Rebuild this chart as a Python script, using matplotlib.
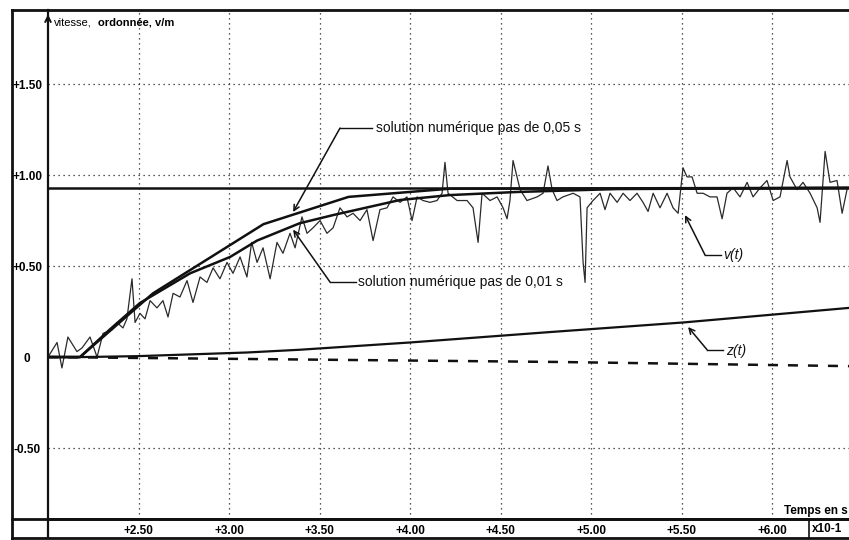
import matplotlib
matplotlib.use("Agg")
import matplotlib.pyplot as plt
from matplotlib.lines import Line2D

# --------------------------------------------------------------------------- #
# data
# --------------------------------------------------------------------------- #
x_ticks = [2.5, 3.0, 3.5, 4.0, 4.5, 5.0, 5.5, 6.0]
x_labels = ["+2.50", "+3.00", "+3.50", "+4.00", "+4.50", "+5.00", "+5.50", "+6.00"]
y_ticks = [-0.5, 0.0, 0.5, 1.0, 1.5]
y_labels = ["-0.50", "0", "+0.50", "+1.00", "+1.50"]
x_range = (2.0, 6.425)
y_range = (-0.89, 1.907)

# measured speed v(t)
t_meas = [2.000, 2.050, 2.077, 2.110, 2.160, 2.188, 2.232, 2.271, 2.304, 2.354,
          2.381, 2.414, 2.436, 2.464, 2.481, 2.508, 2.536, 2.564, 2.602, 2.635,
          2.663, 2.691, 2.729, 2.768, 2.801, 2.840, 2.878, 2.912, 2.950, 2.989,
          3.022, 3.061, 3.099, 3.125, 3.155, 3.188, 3.227, 3.265, 3.298, 3.337,
          3.365, 3.403, 3.431, 3.464, 3.503, 3.541, 3.575, 3.613, 3.652, 3.685,
          3.724, 3.762, 3.796, 3.834, 3.873, 3.906, 3.945, 3.983, 4.011, 4.039,
          4.072, 4.110, 4.149, 4.177, 4.193, 4.210, 4.260, 4.315, 4.348, 4.376,
          4.398, 4.442, 4.481, 4.514, 4.536, 4.552, 4.569, 4.591, 4.608, 4.646,
          4.702, 4.735, 4.762, 4.785, 4.812, 4.845, 4.901, 4.939, 4.956, 4.967,
          4.978, 5.011, 5.050, 5.077, 5.105, 5.144, 5.177, 5.215, 5.254, 5.287,
          5.315, 5.343, 5.381, 5.420, 5.453, 5.481, 5.508, 5.530, 5.558, 5.586,
          5.619, 5.657, 5.696, 5.724, 5.751, 5.785, 5.823, 5.862, 5.895, 5.934,
          5.972, 6.006, 6.044, 6.083, 6.099, 6.138, 6.171, 6.210, 6.249, 6.265,
          6.293, 6.320, 6.359, 6.387, 6.414]
v_meas = [0.00, 0.08, -0.06, 0.11, 0.03, 0.05, 0.11, 0.00, 0.13, 0.15,
          0.19, 0.16, 0.21, 0.43, 0.19, 0.24, 0.21, 0.31, 0.27, 0.31,
          0.22, 0.35, 0.33, 0.42, 0.30, 0.44, 0.41, 0.49, 0.43, 0.52,
          0.46, 0.55, 0.44, 0.63, 0.52, 0.60, 0.43, 0.63, 0.57, 0.68,
          0.60, 0.77, 0.68, 0.71, 0.75, 0.68, 0.71, 0.82, 0.77, 0.79,
          0.75, 0.81, 0.64, 0.81, 0.82, 0.88, 0.85, 0.88, 0.75, 0.88,
          0.86, 0.85, 0.86, 0.90, 1.07, 0.90, 0.86, 0.86, 0.82, 0.63,
          0.90, 0.86, 0.88, 0.82, 0.76, 0.86, 1.08, 0.99, 0.92, 0.86,
          0.88, 0.90, 1.05, 0.92, 0.86, 0.88, 0.90, 0.88, 0.52, 0.41,
          0.82, 0.86, 0.90, 0.81, 0.90, 0.85, 0.90, 0.86, 0.90, 0.85,
          0.80, 0.90, 0.82, 0.90, 0.82, 0.79, 1.04, 0.99, 0.99, 0.90,
          0.90, 0.88, 0.88, 0.76, 0.90, 0.93, 0.88, 0.96, 0.88, 0.93,
          0.97, 0.86, 0.88, 1.08, 0.99, 0.92, 0.96, 0.90, 0.82, 0.74,
          1.13, 0.96, 0.97, 0.79, 0.92]

# limit speed
v_lim = 0.93

# numerical solution, step 0.01 s
t_num01 = [2.0, 2.177, 2.34, 2.508, 2.785, 3.006, 3.155, 3.39, 3.575, 3.945,
           4.22, 4.59, 5.14, 6.425]
v_num01 = [0.0, 0.0, 0.15, 0.297, 0.46, 0.55, 0.64, 0.735, 0.78, 0.863,
           0.89, 0.907, 0.923, 0.93]

# numerical solution, step 0.05 s
t_num05 = [2.0, 2.177, 2.58, 3.19, 3.66, 4.22, 6.425]
v_num05 = [0.0, 0.0, 0.35, 0.73, 0.88, 0.925, 0.93]

# position z(t)
t_z = [2.0, 2.2, 2.5, 2.8, 3.1, 3.39, 4.0, 4.77, 5.51, 6.425]
z_val = [0.0, 0.0, 0.005, 0.015, 0.025, 0.04, 0.08, 0.137, 0.19, 0.27]

# dashed curve just under zero
t_dash = [2.0, 2.5, 4.81, 6.425]
v_dash = [0.0, -0.005, -0.027, -0.05]

# --------------------------------------------------------------------------- #
# figure
# --------------------------------------------------------------------------- #
W, H = 849, 540
fig = plt.figure(figsize=(W / 100, H / 100), dpi=100)
fig.patch.set_facecolor("white")


def fx(px):
    return px / W


def fy(py):
    return 1 - py / H


ax = fig.add_axes([fx(48), fy(519), fx(849) - fx(48), fy(10) - fy(519)])
ax.set_xlim(*x_range)
ax.set_ylim(*y_range)
ax.spines["right"].set_visible(False)
for s in ("left", "top", "bottom"):
    ax.spines[s].set_linewidth(2.0)
    ax.spines[s].set_color("#111111")
ax.spines["left"].set_linewidth(1.6)

NARROW = ["Liberation Sans Narrow", "Liberation Sans", "DejaVu Sans"]

ax.set_xticks(x_ticks)
ax.set_xticklabels(x_labels, family=NARROW, weight="bold", fontsize=8.5)
ax.set_yticks(y_ticks)
ax.set_yticklabels(y_labels, family=NARROW, weight="bold", fontsize=8.5,
                   ha="center")
ax.tick_params(axis="x", length=0, pad=4)
ax.tick_params(axis="y", length=0, pad=15)

# dotted grid
for xv in x_ticks:
    ax.axvline(xv, color="#222222", lw=0.9, ls=(0, (1, 3)), zorder=1)
for yv in y_ticks:
    if yv != 0:
        ax.axhline(yv, color="#222222", lw=0.9, ls=(0, (1, 3)), zorder=1)

# curves
ax.plot(t_meas, v_meas, color="#2a2a2a", lw=0.9, zorder=3)
ax.axhline(v_lim, color="#111111", lw=1.8, zorder=4)
ax.plot(t_num01, v_num01, color="#111111", lw=1.8, zorder=5)
ax.plot(t_num05, v_num05, color="#111111", lw=1.8, zorder=5)
ax.plot(t_z, z_val, color="#111111", lw=1.6, zorder=5)
ax.plot(t_dash, v_dash, color="#111111", lw=1.8, ls=(0, (4, 4)), zorder=4)

# annotations with elbow leader lines
arrow = dict(arrowstyle="->", color="#111111", lw=1.1, shrinkA=0, shrinkB=0)
label_font = dict(family=NARROW, fontsize=10, color="#111111")


def leader(tip, elbow, end):
    ax.plot([elbow[0], end[0]], [elbow[1], end[1]], color="#111111", lw=1.0,
            zorder=6)
    ax.annotate("", xy=tip, xytext=elbow, arrowprops=arrow, zorder=6)


leader((3.354, 0.797), (3.613, 1.258), (3.79, 1.258))
ax.text(3.81, 1.258, "solution numérique pas de 0,05 s", va="center",
        ha="left", **label_font)

leader((3.354, 0.70), (3.558, 0.412), (3.70, 0.412))
ax.text(3.715, 0.412, "solution numérique pas de 0,01 s", va="center",
        ha="left", **label_font)

leader((5.519, 0.78), (5.63, 0.56), (5.72, 0.56))
ax.text(5.73, 0.56, "v(t)", va="center", ha="left", style="italic",
        **label_font)

leader((5.536, 0.165), (5.641, 0.04), (5.73, 0.04))
ax.text(5.745, 0.035, "z(t)", va="center", ha="left", style="italic",
        **label_font)

# y axis arrow and title
ax.annotate("", xy=(0, 0.997), xycoords="axes fraction", xytext=(0, 0.95),
            arrowprops=dict(arrowstyle="->", color="#111111", lw=1.4))
ax.text(0.007, 0.976, "vitesse,", transform=ax.transAxes, family=NARROW,
        fontsize=8, va="center", ha="left")
ax.text(0.062, 0.976, "ordonnée, v/m", transform=ax.transAxes, family=NARROW,
        weight="bold", fontsize=8, va="center", ha="left")

# outer frame of the acquisition window
frame = dict(color="#111111", lw=2.0, transform=fig.transFigure)
fig.add_artist(Line2D([fx(12), fx(12)], [fy(10), fy(539)], **frame))
fig.add_artist(Line2D([fx(12), fx(48)], [fy(10), fy(10)], **frame))
fig.add_artist(Line2D([fx(12), fx(849)], [fy(519), fy(519)], **frame))
fig.add_artist(Line2D([fx(12), fx(849)], [fy(538), fy(538)], **frame))
fig.add_artist(Line2D([fx(48), fx(48)], [fy(519), fy(538)],
                      color="#111111", lw=1.6, transform=fig.transFigure))
fig.add_artist(Line2D([fx(809), fx(809)], [fy(519), fy(538)],
                      color="#111111", lw=1.2, transform=fig.transFigure))

fig.text(fx(848), fy(514), "Temps en s", family=NARROW, weight="bold",
         fontsize=8.5, ha="right", va="baseline")
fig.text(fx(812), fy(529), "x10-1", family=NARROW, weight="bold",
         fontsize=8.5, ha="left", va="center")

fig.savefig("out.png", dpi=100)
